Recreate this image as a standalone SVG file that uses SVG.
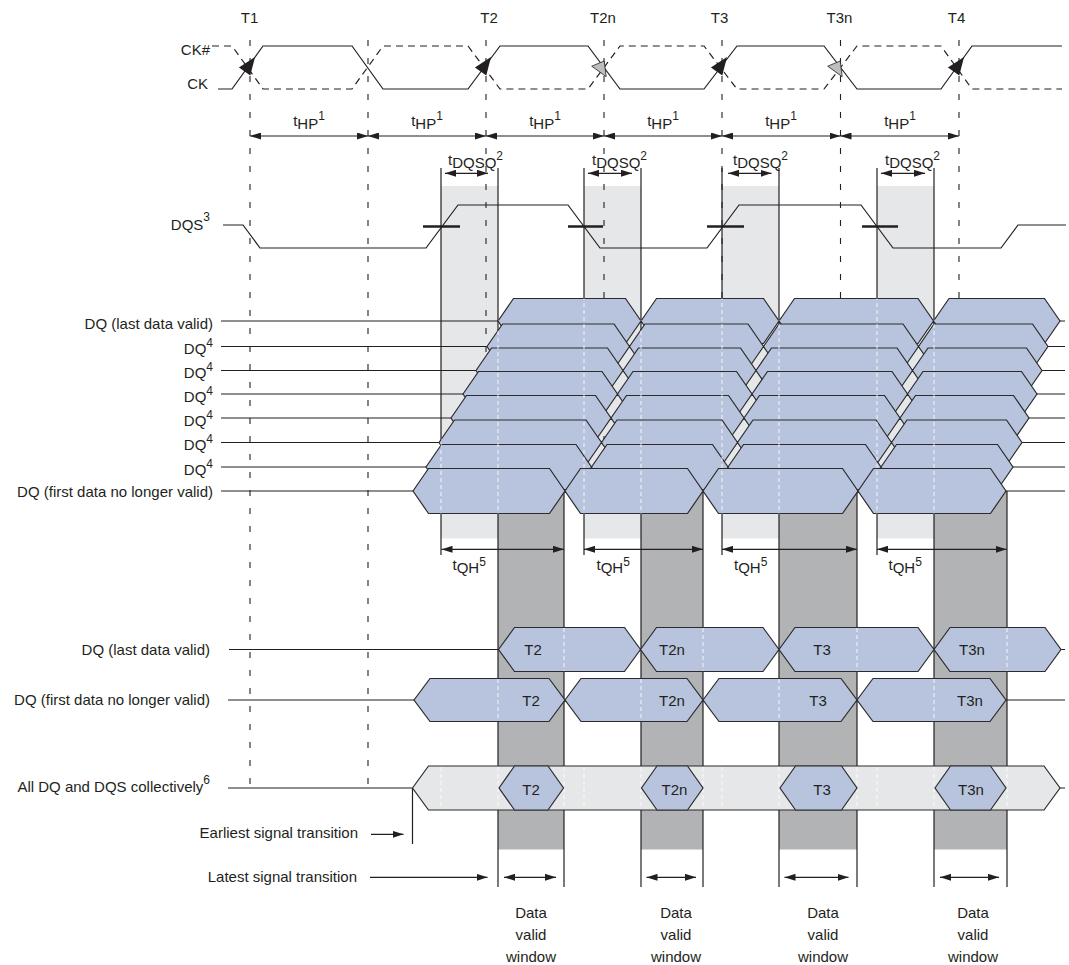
<svg xmlns="http://www.w3.org/2000/svg" xmlns:xlink="http://www.w3.org/1999/xlink" width="1069" height="965" viewBox="0 0 1069 965">
<style>
text{font-family:"Liberation Sans",Arial,sans-serif;font-size:15px;fill:#231f20}
.ln{stroke:#231f20;stroke-width:1.2;fill:none}
.dash{stroke:#231f20;stroke-width:1.1;stroke-dasharray:6 12;fill:none}
.ckn{stroke:#231f20;stroke-width:1.2;stroke-dasharray:7 5;fill:none}
.edge{stroke:#231f20;stroke-width:1.2}
.wd{stroke:#ffffff;stroke-width:1;stroke-dasharray:4 3;opacity:0.85}
.eye{fill:#b8c4dd;stroke:#2b2b2b;stroke-width:1.2}
.coll{fill:#e6e7e8;stroke:#2b2b2b;stroke-width:1.2}
.lb{fill:#e6e7e8}
.db{fill:#b2b3b5}
.bar{stroke:#231f20;stroke-width:2.6}
.dim{stroke:#231f20;stroke-width:1.2;fill:none;marker-start:url(#ah);marker-end:url(#ah)}
.one{stroke:#231f20;stroke-width:1.2;fill:none;marker-end:url(#ah)}
.r{text-anchor:end}
.m{text-anchor:middle}
.sup{font-size:12px}
.blk{fill:#231f20}
.gry{fill:#bcbec0;stroke:#231f20;stroke-width:0.8}
</style>
<defs>
<marker id="ah" viewBox="0 0 11 7" refX="11" refY="3.5" markerWidth="11" markerHeight="7" markerUnits="userSpaceOnUse" orient="auto-start-reverse"><path d="M0,0 L11,3.5 L0,7 z" fill="#231f20"/></marker>
<clipPath id="dqclip"><use href="#r1s"/><use href="#r2s"/><use href="#r3s"/><use href="#r4s"/><use href="#r5s"/><use href="#r6s"/><use href="#r7s"/><use href="#r8s"/></clipPath>
</defs>
<rect width="1069" height="965" fill="#ffffff"/>

<g id="bands">
<rect class="lb" x="441" y="186" width="57" height="352.5"/>
<rect class="lb" x="584" y="186" width="57" height="352.5"/>
<rect class="lb" x="722" y="186" width="57" height="352.5"/>
<rect class="lb" x="877" y="186" width="57" height="352.5"/>
<rect class="db" x="498" y="491" width="66" height="358.5"/>
<rect class="db" x="641" y="491" width="62" height="358.5"/>
<rect class="db" x="779" y="491" width="78" height="358.5"/>
<rect class="db" x="934" y="491" width="73" height="358.5"/>
</g>

<g id="time-markers">
<line class="dash" x1="250" y1="40" x2="250" y2="790"/>
<line class="dash" x1="368" y1="40" x2="368" y2="790"/>
<line class="dash" x1="486" y1="40" x2="486" y2="500"/>
<line class="dash" x1="604" y1="40" x2="604" y2="500"/>
<line class="dash" x1="722" y1="40" x2="722" y2="500"/>
<line class="dash" x1="840.5" y1="40" x2="840.5" y2="500"/>
<line class="dash" x1="959" y1="40" x2="959" y2="500"/>
<text class="m" x="249.5" y="23">T1</text>
<text class="m" x="489" y="23">T2</text>
<text class="m" x="603" y="23">T2n</text>
<text class="m" x="719.5" y="23">T3</text>
<text class="m" x="839.5" y="23">T3n</text>
<text class="m" x="956.5" y="23">T4</text>
</g>

<g id="band-edges">
<line class="edge" x1="441" y1="168" x2="441" y2="555"/>
<line class="edge" x1="584" y1="168" x2="584" y2="555"/>
<line class="edge" x1="722" y1="168" x2="722" y2="555"/>
<line class="edge" x1="877" y1="168" x2="877" y2="555"/>
<line class="edge" x1="498" y1="168" x2="498" y2="887"/>
<line class="edge" x1="641" y1="168" x2="641" y2="887"/>
<line class="edge" x1="779" y1="168" x2="779" y2="887"/>
<line class="edge" x1="934" y1="168" x2="934" y2="887"/>
<line class="edge" x1="564" y1="491" x2="564" y2="887"/>
<line class="edge" x1="703" y1="491" x2="703" y2="887"/>
<line class="edge" x1="857" y1="491" x2="857" y2="887"/>
<line class="edge" x1="1007" y1="491" x2="1007" y2="887"/>
</g>

<g id="clock">
<text class="r" x="210" y="55">CK#</text>
<text class="r" x="208" y="89">CK</text>
<polyline class="ln" points="218,89 232,89 263,46 352,46 383,89 468,89 500,46 588,46 620,89 704,89 737,46 824,46 857,89 941,89 972,46 1062,46"/>
<polyline class="ckn" points="212,46 232,46 263,89 352,89 383,46 468,46 500,89 588,89 620,46 704,46 737,89 824,89 857,46 941,46 972,89 1062,89"/>
<polygon class="blk" points="255,57 238.9,67.4 250.3,75.6"/>
<polygon class="blk" points="491,57 474.9,67.4 486.3,75.6"/>
<polygon class="blk" points="727,57 710.9,67.4 722.3,75.6"/>
<polygon class="blk" points="964,57 947.9,67.4 959.3,75.6"/>
<polygon class="gry" points="591.7,66.2 604.2,61 606.2,76.7"/>
<polygon class="gry" points="827.7,66.2 840.2,61 842.2,76.7"/>
</g>

<g id="dqs">
<text class="r" x="210" y="230">DQS<tspan class="sup" dy="-9">3</tspan></text>
<polyline class="ln" points="223,225 243,225 260,248 426,248 458,205 568,205 600,248 707,248 739,205 861,205 893,248 1001,248 1018,225 1066,225"/>
<line class="bar" x1="423" y1="226.5" x2="460" y2="226.5"/>
<line class="bar" x1="568" y1="226.5" x2="603" y2="226.5"/>
<line class="bar" x1="707" y1="226.5" x2="744" y2="226.5"/>
<line class="bar" x1="862" y1="226.5" x2="898" y2="226.5"/>
</g>

<g id="connectors">
<line class="dim" x1="250" y1="136" x2="368" y2="136"/>
<line class="dim" x1="368" y1="136" x2="486" y2="136"/>
<line class="dim" x1="486" y1="136" x2="604" y2="136"/>
<line class="dim" x1="604" y1="136" x2="722" y2="136"/>
<line class="dim" x1="722" y1="136" x2="840.5" y2="136"/>
<line class="dim" x1="840.5" y1="136" x2="959" y2="136"/>
<line class="dim" x1="445" y1="173.3" x2="488" y2="173.3"/>
<line class="dim" x1="588" y1="173.3" x2="632" y2="173.3"/>
<line class="dim" x1="728" y1="173.3" x2="771.5" y2="173.3"/>
<line class="dim" x1="881" y1="173.3" x2="925" y2="173.3"/>
<line class="dim" x1="441.5" y1="549.3" x2="564" y2="549.3"/>
<line class="dim" x1="584" y1="549.3" x2="703" y2="549.3"/>
<line class="dim" x1="722" y1="549.3" x2="857" y2="549.3"/>
<line class="dim" x1="877" y1="549.3" x2="1006.5" y2="549.3"/>
<line class="one" x1="371" y1="834.3" x2="403.5" y2="834.3"/>
<line class="one" x1="370" y1="877.3" x2="487.5" y2="877.3"/>
<line class="dim" x1="504" y1="877.3" x2="556" y2="877.3"/>
<line class="dim" x1="646.5" y1="877.3" x2="696" y2="877.3"/>
<line class="dim" x1="784.5" y1="877.3" x2="848.5" y2="877.3"/>
<line class="dim" x1="940" y1="877.3" x2="999" y2="877.3"/>
</g>

<g id="timing-labels">
<text class="m" x="309" y="125.5">t<tspan dy="3">HP</tspan><tspan class="sup" dy="-9">1</tspan></text>
<text class="m" x="427" y="125.5">t<tspan dy="3">HP</tspan><tspan class="sup" dy="-9">1</tspan></text>
<text class="m" x="545" y="125.5">t<tspan dy="3">HP</tspan><tspan class="sup" dy="-9">1</tspan></text>
<text class="m" x="663" y="125.5">t<tspan dy="3">HP</tspan><tspan class="sup" dy="-9">1</tspan></text>
<text class="m" x="781" y="125.5">t<tspan dy="3">HP</tspan><tspan class="sup" dy="-9">1</tspan></text>
<text class="m" x="900" y="125.5">t<tspan dy="3">HP</tspan><tspan class="sup" dy="-9">1</tspan></text>
<text x="448" y="165">t<tspan dy="3">DQSQ</tspan><tspan class="sup" dy="-8">2</tspan></text>
<text x="592" y="165">t<tspan dy="3">DQSQ</tspan><tspan class="sup" dy="-8">2</tspan></text>
<text x="733" y="165">t<tspan dy="3">DQSQ</tspan><tspan class="sup" dy="-8">2</tspan></text>
<text x="885" y="165">t<tspan dy="3">DQSQ</tspan><tspan class="sup" dy="-8">2</tspan></text>
<text x="452.5" y="570">t<tspan dy="3">QH</tspan><tspan class="sup" dy="-7">5</tspan></text>
<text x="596.5" y="570">t<tspan dy="3">QH</tspan><tspan class="sup" dy="-7">5</tspan></text>
<text x="734" y="570">t<tspan dy="3">QH</tspan><tspan class="sup" dy="-7">5</tspan></text>
<text x="888.5" y="570">t<tspan dy="3">QH</tspan><tspan class="sup" dy="-7">5</tspan></text>
</g>

<g id="dq-last">
<text class="r" x="213" y="329">DQ (last data valid)</text>
<path class="ln" d="M221,321 H498 M1060,321 H1065"/>
<path id="r1s" class="eye" d="M498,321 L513.5,298.5 L625.5,298.5 L641,321 L625.5,343.5 L513.5,343.5 Z M641,321 L656.5,298.5 L763.5,298.5 L779,321 L763.5,343.5 L656.5,343.5 Z M779,321 L794.5,298.5 L918,298.5 L933.5,321 L918,343.5 L794.5,343.5 Z M933.5,321 L949,298.5 L1044.5,298.5 L1060,321 L1044.5,343.5 L949,343.5 Z"/>
</g>
<g id="dq-2">
<text class="r" x="213" y="354">DQ<tspan class="sup" dy="-7">4</tspan></text>
<path class="ln" d="M221,346.5 H487 M1048,346.5 H1065"/>
<path id="r2s" class="eye" d="M487,346.5 L502.5,324 L614,324 L629.5,346.5 L614,369 L502.5,369 Z M629.5,346.5 L645,324 L748,324 L763.5,346.5 L748,369 L645,369 Z M763.5,346.5 L779,324 L903,324 L918.5,346.5 L903,369 L779,369 Z M918.5,346.5 L934,324 L1032.5,324 L1048,346.5 L1032.5,369 L934,369 Z"/>
</g>
<g id="dq-3">
<text class="r" x="213" y="378">DQ<tspan class="sup" dy="-7">4</tspan></text>
<path class="ln" d="M221,370.5 H476 M1042,370.5 H1065"/>
<path id="r3s" class="eye" d="M476,370.5 L491.5,348 L607.5,348 L623,370.5 L607.5,393 L491.5,393 Z M623,370.5 L638.5,348 L740.5,348 L756,370.5 L740.5,393 L638.5,393 Z M756,370.5 L771.5,348 L897,348 L912.5,370.5 L897,393 L771.5,393 Z M912.5,370.5 L928,348 L1026.5,348 L1042,370.5 L1026.5,393 L928,393 Z"/>
</g>
<g id="dq-4">
<text class="r" x="213" y="401.5">DQ<tspan class="sup" dy="-7">4</tspan></text>
<path class="ln" d="M221,394 H463 M1037,394 H1065"/>
<path id="r4s" class="eye" d="M463,394 L478.5,371.5 L602,371.5 L617.5,394 L602,416.5 L478.5,416.5 Z M617.5,394 L633,371.5 L736.5,371.5 L752,394 L736.5,416.5 L633,416.5 Z M752,394 L767.5,371.5 L892,371.5 L907.5,394 L892,416.5 L767.5,416.5 Z M907.5,394 L923,371.5 L1021.5,371.5 L1037,394 L1021.5,416.5 L923,416.5 Z"/>
</g>
<g id="dq-5">
<text class="r" x="213" y="425.5">DQ<tspan class="sup" dy="-7">4</tspan></text>
<path class="ln" d="M221,418 H451 M1029,418 H1065"/>
<path id="r5s" class="eye" d="M451,418 L466.5,395.5 L595.5,395.5 L611,418 L595.5,440.5 L466.5,440.5 Z M611,418 L626.5,395.5 L728.5,395.5 L744,418 L728.5,440.5 L626.5,440.5 Z M744,418 L759.5,395.5 L884.5,395.5 L900,418 L884.5,440.5 L759.5,440.5 Z M900,418 L915.5,395.5 L1013.5,395.5 L1029,418 L1013.5,440.5 L915.5,440.5 Z"/>
</g>
<g id="dq-6">
<text class="r" x="213" y="450">DQ<tspan class="sup" dy="-7">4</tspan></text>
<path class="ln" d="M221,442.5 H439 M1022,442.5 H1065"/>
<path id="r6s" class="eye" d="M439,442.5 L454.5,420 L586,420 L601.5,442.5 L586,465 L454.5,465 Z M601.5,442.5 L617,420 L722,420 L737.5,442.5 L722,465 L617,465 Z M737.5,442.5 L753,420 L876,420 L891.5,442.5 L876,465 L753,465 Z M891.5,442.5 L907,420 L1006.5,420 L1022,442.5 L1006.5,465 L907,465 Z"/>
</g>
<g id="dq-7">
<text class="r" x="213" y="474.5">DQ<tspan class="sup" dy="-7">4</tspan></text>
<path class="ln" d="M221,467 H426 M1013,467 H1065"/>
<path id="r7s" class="eye" d="M426,467 L441.5,444.5 L576,444.5 L591.5,467 L576,489.5 L441.5,489.5 Z M591.5,467 L607,444.5 L712.5,444.5 L728,467 L712.5,489.5 L607,489.5 Z M728,467 L743.5,444.5 L865.5,444.5 L881,467 L865.5,489.5 L743.5,489.5 Z M881,467 L896.5,444.5 L997.5,444.5 L1013,467 L997.5,489.5 L896.5,489.5 Z"/>
</g>
<g id="dq-first">
<text class="r" x="213" y="497">DQ (first data no longer valid)</text>
<path class="ln" d="M221,491 H413 M1006,491 H1065"/>
<path id="r8s" class="eye" d="M413,491 L428.5,468.5 L549.5,468.5 L565,491 L549.5,513.5 L428.5,513.5 Z M565,491 L580.5,468.5 L687.5,468.5 L703,491 L687.5,513.5 L580.5,513.5 Z M703,491 L718.5,468.5 L842.5,468.5 L858,491 L842.5,513.5 L718.5,513.5 Z M858,491 L873.5,468.5 L990.5,468.5 L1006,491 L990.5,513.5 L873.5,513.5 Z"/>
</g>

<g id="dq-band-marks" clip-path="url(#dqclip)">
<line class="wd" x1="441" y1="296" x2="441" y2="516"/>
<line class="wd" x1="498" y1="296" x2="498" y2="516"/>
<line class="wd" x1="584" y1="296" x2="584" y2="516"/>
<line class="wd" x1="641" y1="296" x2="641" y2="516"/>
<line class="wd" x1="722" y1="296" x2="722" y2="516"/>
<line class="wd" x1="779" y1="296" x2="779" y2="516"/>
<line class="wd" x1="877" y1="296" x2="877" y2="516"/>
<line class="wd" x1="934" y1="296" x2="934" y2="516"/>
</g>

<g id="out-last">
<text class="r" x="210" y="655">DQ (last data valid)</text>
<path class="ln" d="M229,649.5 H498.5 M1061,649.5 H1065"/>
<path class="eye" d="M498.5,649.5 L514.5,627.5 L624.5,627.5 L640.5,649.5 L624.5,671.5 L514.5,671.5 Z M640.5,649.5 L656.5,627.5 L763,627.5 L779,649.5 L763,671.5 L656.5,671.5 Z M779,649.5 L795,627.5 L918,627.5 L934,649.5 L918,671.5 L795,671.5 Z M934,649.5 L950,627.5 L1045,627.5 L1061,649.5 L1045,671.5 L950,671.5 Z"/>
<line class="wd" x1="564" y1="628" x2="564" y2="671"/>
<line class="wd" x1="703" y1="628" x2="703" y2="671"/>
<line class="wd" x1="857" y1="628" x2="857" y2="671"/>
<line class="wd" x1="1007" y1="628" x2="1007" y2="671"/>
<text class="m" x="533" y="655">T2</text>
<text class="m" x="672" y="655">T2n</text>
<text class="m" x="822" y="655">T3</text>
<text class="m" x="972" y="655">T3n</text>
</g>

<g id="out-first">
<text class="r" x="210" y="705">DQ (first data no longer valid)</text>
<path class="ln" d="M228,700 H414 M1006,700 H1065"/>
<path class="eye" d="M414,700 L430,678.5 L549,678.5 L565,700 L549,721.5 L430,721.5 Z M565,700 L581,678.5 L687,678.5 L703,700 L687,721.5 L581,721.5 Z M703,700 L719,678.5 L841,678.5 L857,700 L841,721.5 L719,721.5 Z M857,700 L873,678.5 L990,678.5 L1006,700 L990,721.5 L873,721.5 Z"/>
<line class="wd" x1="498" y1="679" x2="498" y2="721"/>
<line class="wd" x1="641" y1="679" x2="641" y2="721"/>
<line class="wd" x1="779" y1="679" x2="779" y2="721"/>
<line class="wd" x1="934" y1="679" x2="934" y2="721"/>
<text class="m" x="531" y="705.5">T2</text>
<text class="m" x="672" y="705.5">T2n</text>
<text class="m" x="818" y="705.5">T3</text>
<text class="m" x="970" y="705.5">T3n</text>
</g>

<g id="collective">
<text class="r" x="210" y="792">All DQ and DQS collectively<tspan class="sup" dy="-8">6</tspan></text>
<path class="ln" d="M228,788 H412.5 M1060,788 H1065 M412.5,788 V844"/>
<path class="coll" d="M412.5,788 L428.5,766 L1044,766 L1060,788 L1044,810 L428.5,810 Z"/>
<line class="wd" x1="441" y1="767" x2="441" y2="809"/>
<line class="wd" x1="498" y1="767" x2="498" y2="809"/>
<line class="wd" x1="564" y1="767" x2="564" y2="809"/>
<line class="wd" x1="584" y1="767" x2="584" y2="809"/>
<line class="wd" x1="641" y1="767" x2="641" y2="809"/>
<line class="wd" x1="703" y1="767" x2="703" y2="809"/>
<line class="wd" x1="722" y1="767" x2="722" y2="809"/>
<line class="wd" x1="779" y1="767" x2="779" y2="809"/>
<line class="wd" x1="857" y1="767" x2="857" y2="809"/>
<line class="wd" x1="877" y1="767" x2="877" y2="809"/>
<line class="wd" x1="934" y1="767" x2="934" y2="809"/>
<line class="wd" x1="1007" y1="767" x2="1007" y2="809"/>
<path class="eye" d="M499,788 L514.5,766 L548,766 L563.5,788 L548,810 L514.5,810 Z M641.5,788 L657,766 L687.5,766 L703,788 L687.5,810 L657,810 Z M780,788 L795.5,766 L841.5,766 L857,788 L841.5,810 L795.5,810 Z M935,788 L950.5,766 L990.5,766 L1006,788 L990.5,810 L950.5,810 Z"/>
<text class="m" x="531" y="795">T2</text>
<text class="m" x="674.5" y="795">T2n</text>
<text class="m" x="822" y="795">T3</text>
<text class="m" x="971" y="795">T3n</text>
</g>

<g id="notes">
<text class="r" x="358" y="838">Earliest signal transition</text>
<text class="r" x="357" y="882">Latest signal transition</text>
<text class="m" x="531" y="918">Data</text>
<text class="m" x="531" y="940">valid</text>
<text class="m" x="531" y="961.5">window</text>
<text class="m" x="676" y="918">Data</text>
<text class="m" x="676" y="940">valid</text>
<text class="m" x="676" y="961.5">window</text>
<text class="m" x="823" y="918">Data</text>
<text class="m" x="823" y="940">valid</text>
<text class="m" x="823" y="961.5">window</text>
<text class="m" x="973" y="918">Data</text>
<text class="m" x="973" y="940">valid</text>
<text class="m" x="973" y="961.5">window</text>
</g>
</svg>
